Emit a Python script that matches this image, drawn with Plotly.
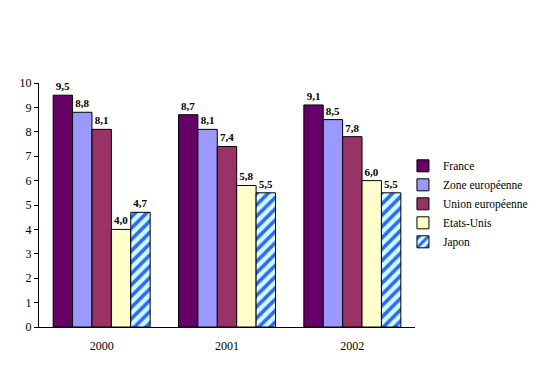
import plotly.graph_objects as go

years = ["2000", "2001", "2002"]
series_names = ["France", "Zone européenne", "Union européenne", "Etats-Unis", "Japon"]
france = [9.5, 8.7, 9.1]
zone_euro = [8.8, 8.1, 8.5]
union_euro = [8.1, 7.4, 7.8]
etats_unis = [4.0, 5.8, 6.0]
japon = [4.7, 5.5, 5.5]
y_ticks = list(range(0, 11))
grid_levels = [2, 3, 4, 5, 6, 7, 8]

series_values = [france, zone_euro, union_euro, etats_unis, japon]
colors = ["#660066", "#9999FF", "#993366", "#FFFFCC", "#CCFFFF"]

FONT = "Liberation Serif, Times New Roman, serif"
fig = go.Figure()
for name, vals, col in zip(series_names, series_values, colors):
    marker = dict(color=col, line=dict(color="black", width=1))
    if name == "Japon":
        marker["pattern"] = dict(shape="/", fgcolor="#3366FF", bgcolor="#CCFFFF",
                                 size=8, solidity=0.45, fillmode="replace")
    fig.add_trace(go.Bar(
        x=years, y=vals, name=name, marker=marker,
        texttemplate="%{y:.1f}", textposition="outside",
        textfont=dict(family=FONT, size=11, color="black", weight="bold"),
        cliponaxis=False,
    ))

fig.update_layout(
    width=536, height=364,
    margin=dict(l=31, r=129, t=75, b=45, autoexpand=False),
    paper_bgcolor="white", plot_bgcolor="white",
    barmode="group", bargap=0.226, bargroupgap=0,
    separators=", ",
    font=dict(family=FONT, size=12, color="black"),
    showlegend=True,
    legend=dict(x=0.968, y=0.72, xanchor="left", yanchor="top",
                font=dict(family=FONT, size=11.5, color="black"),
                tracegroupgap=0, itemwidth=30, bgcolor="rgba(0,0,0,0)"),
    xaxis=dict(showline=True, linecolor="black", linewidth=1, ticks="",
               showgrid=False, ticklabelstandoff=8,
               tickfont=dict(family=FONT, size=12)),
    yaxis=dict(range=[0, 10], tickvals=y_ticks, ticks="outside", ticklen=4,
               tickcolor="black", showline=True, linecolor="black", linewidth=1,
               showgrid=False, zeroline=False,
               tickfont=dict(family=FONT, size=12)),
    yaxis2=dict(range=[0, 10], overlaying="y", side="left", tickvals=grid_levels,
                showticklabels=False, ticks="", showgrid=True, gridcolor="#BFBFBF",
                griddash="3px,4px", gridwidth=1, zeroline=False, showline=False),
)

fig.write_html("out.html")
